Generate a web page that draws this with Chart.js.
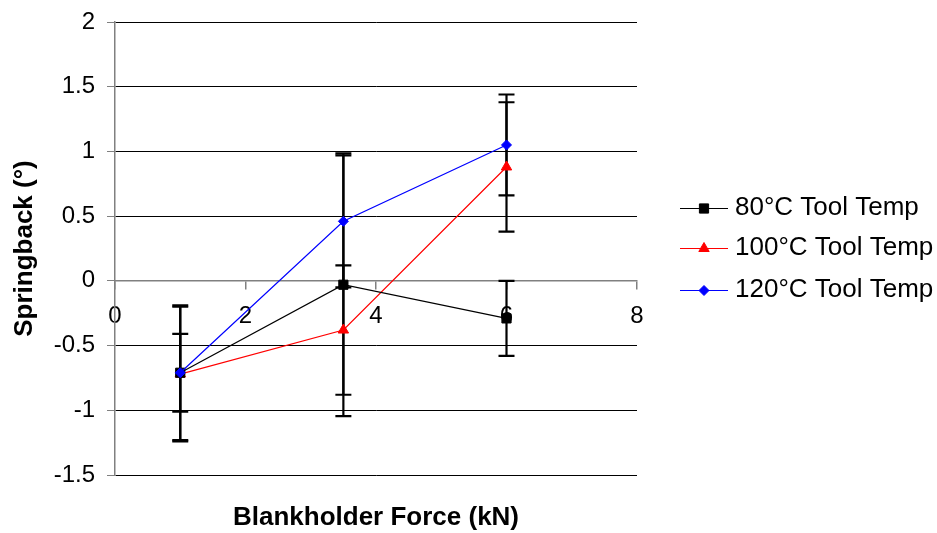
<!DOCTYPE html>
<html>
<head>
<meta charset="utf-8">
<script src="https://cdn.jsdelivr.net/npm/chart.js@4/dist/chart.umd.min.js"></script>
<style>
  html, body { margin: 0; padding: 0; background: #ffffff; }
  #wrap { width: 937px; height: 533px; position: relative; }
</style>
</head>
<body>
<div id="wrap"><canvas id="chart" width="937" height="533"></canvas></div>
<script>
// Blankholder force (kN)
const forces = [1, 3.5, 6];

// Mean springback (degrees) for each tool temperature
const tool80 = [-0.71, -0.03, -0.29];
const tool100 = [-0.72, -0.38, 0.88];
const tool120 = [-0.71, 0.46, 1.05];

// Error bar half-widths (degrees)
const err80 = [0.30, 1.015, 0.29];
const err100 = [0.52, 0.50, 0.50];
const err120 = [0.52, 0.51, 0.39];

const seriesLabels = ['80°C Tool Temp', '100°C Tool Temp', '120°C Tool Temp'];
const yTickValues = [-1.5, -1, -0.5, 0, 0.5, 1, 1.5, 2];
const xTickValues = [0, 2, 4, 6, 8];

const FONT = '"Liberation Sans", Arial, Helvetica, sans-serif';
const AXIS_GREY = '#808080';

function pts(ys) { return forces.map((x, i) => ({ x: x, y: ys[i] })); }

// Vertical error bars with caps, drawn beneath the lines and markers
const errorBars = {
  id: 'errorBars',
  beforeDatasetsDraw(chart) {
    const ctx = chart.ctx;
    const xs = chart.scales.x, ys = chart.scales.y;
    ctx.save();
    ctx.strokeStyle = '#000000';
    ctx.lineWidth = 2.2;
    chart.data.datasets.forEach(ds => {
      ds.data.forEach((p, i) => {
        const e = ds.errors[i];
        const px = xs.getPixelForValue(p.x);
        const top = ys.getPixelForValue(p.y + e);
        const bot = ys.getPixelForValue(p.y - e);
        ctx.beginPath();
        ctx.moveTo(px, top); ctx.lineTo(px, bot);
        ctx.moveTo(px - 8, top); ctx.lineTo(px + 8, top);
        ctx.moveTo(px - 8, bot); ctx.lineTo(px + 8, bot);
        ctx.stroke();
      });
    });
    ctx.restore();
  }
};

// Legend on the right: a short line with the series marker, then the label
const sideLegend = {
  id: 'sideLegend',
  afterDraw(chart) {
    const ctx = chart.ctx;
    const rows = [208, 248, 290];
    ctx.save();
    chart.data.datasets.forEach((ds, i) => {
      const y = rows[i];
      ctx.strokeStyle = ds.borderColor;
      ctx.lineWidth = 1;
      ctx.beginPath();
      ctx.moveTo(680, y + 0.5); ctx.lineTo(728, y + 0.5);
      ctx.stroke();
      ctx.fillStyle = ds.pointBackgroundColor;
      ctx.strokeStyle = ds.pointBorderColor;
      const opts = { pointStyle: ds.pointStyle, radius: ds.pointRadius, rotation: 0, borderWidth: 1 };
      if (Chart.helpers && Chart.helpers.drawPoint) {
        Chart.helpers.drawPoint(ctx, opts, 704, y + 0.5);
      }
      ctx.fillStyle = '#000000';
      ctx.font = '26px ' + FONT;
      ctx.textAlign = 'left';
      ctx.textBaseline = 'middle';
      ctx.fillText(ds.label, 735, y);
    });
    ctx.restore();
  }
};

new Chart(document.getElementById('chart'), {
  type: 'line',
  data: {
    datasets: [
      {
        label: seriesLabels[0], data: pts(tool80), errors: err80, order: 1,
        borderColor: '#000000', backgroundColor: '#000000', borderWidth: 1.2,
        pointStyle: 'rect', pointRadius: 6.5, pointBackgroundColor: '#000000', pointBorderColor: '#000000', pointBorderWidth: 1
      },
      {
        label: seriesLabels[1], data: pts(tool100), errors: err100, order: 2,
        borderColor: '#ff0000', backgroundColor: '#ff0000', borderWidth: 1.2,
        pointStyle: 'triangle', pointRadius: 6, pointBackgroundColor: '#ff0000', pointBorderColor: '#ff0000', pointBorderWidth: 1
      },
      {
        label: seriesLabels[2], data: pts(tool120), errors: err120, order: 0,
        borderColor: '#0000ff', backgroundColor: '#0000ff', borderWidth: 1.2,
        pointStyle: 'rectRot', pointRadius: 5, pointBackgroundColor: '#0000ff', pointBorderColor: '#0000ff', pointBorderWidth: 1
      }
    ]
  },
  options: {
    responsive: false,
    animation: false,
    devicePixelRatio: 1,
    layout: { padding: { top: 22, right: 300, left: 0, bottom: 0 } },
    plugins: { legend: { display: false }, tooltip: { enabled: false } },
    elements: { line: { tension: 0, fill: false } },
    scales: {
      x: {
        type: 'linear', position: { y: 0 }, min: 0, max: 8,
        afterBuildTicks(scale) { scale.ticks = xTickValues.map(v => ({ value: v })); },
        ticks: { color: '#000000', font: { family: FONT, size: 24 }, padding: 13, maxRotation: 0,
                 callback: v => String(v) },
        grid: { drawOnChartArea: false, tickLength: 8, color: AXIS_GREY, tickColor: AXIS_GREY, lineWidth: 1.5 },
        border: { color: AXIS_GREY, width: 1.5 }
      },
      xb: {
        type: 'linear', position: 'bottom', min: 0, max: 8,
        afterFit(scale) { scale.height = 58; },
        ticks: { display: false },
        grid: { display: false },
        border: { display: false },
        title: {
          display: true, text: 'Blankholder Force (kN)', color: '#000000',
          font: { family: FONT, size: 26, weight: 'bold' }, padding: { top: 0, bottom: 0 }
        }
      },
      y: {
        type: 'linear', position: 'left', min: -1.5, max: 2,
        afterFit(scale) { scale.width = 115; scale.paddingTop = 0; },
        afterBuildTicks(scale) { scale.ticks = yTickValues.map(v => ({ value: v })); },
        ticks: { color: '#000000', font: { family: FONT, size: 24 }, padding: 12,
                 callback: v => String(v) },
        grid: {
          tickLength: 8,
          color: ctx => (ctx.tick && ctx.tick.value === 0) ? AXIS_GREY : '#000000',
          tickColor: AXIS_GREY,
          lineWidth: 1
        },
        border: { color: AXIS_GREY, width: 1.5 },
        title: {
          display: true, text: 'Springback (°)', color: '#000000',
          font: { family: FONT, size: 26, weight: 'bold' }, padding: { top: 9, bottom: 0 }
        }
      }
    }
  },
  plugins: [errorBars, sideLegend]
});
</script>
</body>
</html>
